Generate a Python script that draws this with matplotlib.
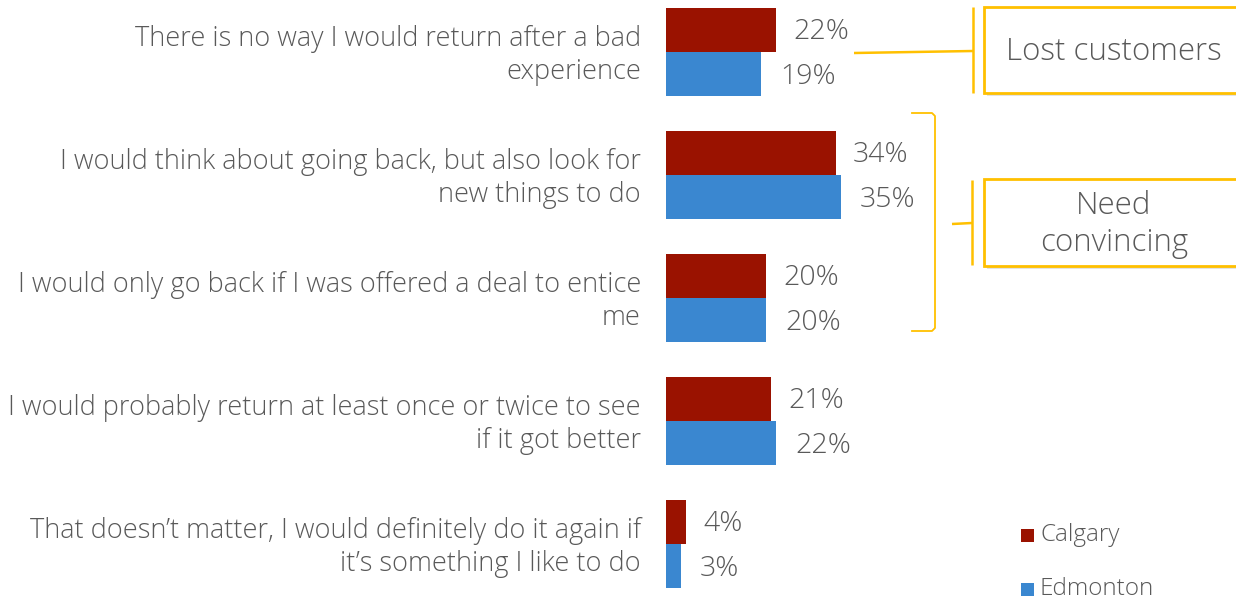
import matplotlib.pyplot as plt
from matplotlib.patches import Rectangle
from matplotlib.lines import Line2D

plt.rcParams['font.family'] = ['Open Sans', 'DejaVu Sans']

categories = [
    "There is no way I would return after a bad\nexperience",
    "I would think about going back, but also look for\nnew things to do",
    "I would only go back if I was offered a deal to entice\nme",
    "I would probably return at least once or twice to see\nif it got better",
    "That doesn\u2019t matter, I would definitely do it again if\nit\u2019s something I like to do",
]
calgary = [22, 34, 20, 21, 4]
edmonton = [19, 35, 20, 22, 3]
series_names = ["Calgary", "Edmonton"]

RED = "#9a1200"
BLUE = "#3a87d0"
GREY = "#595959"
GOLD = "#ffc000"

W, H = 1236, 601
fig = plt.figure(figsize=(W / 100, H / 100), dpi=100)


def fx(x):
    return x / W


def fy(y):
    return 1 - y / H


# axes spans from the bar baseline to the right edge
ax = fig.add_axes([fx(666), 0, 1 - fx(666), 1])
ax.set_xlim(0, 114)
ax.set_ylim(4.463, -0.423)
ax.axis("off")

bh = 0.358
ypos = list(range(len(categories)))
ax.barh([y - bh / 2 for y in ypos], calgary, height=bh, color=RED, align="center")
ax.barh([y + bh / 2 for y in ypos], edmonton, height=bh, color=BLUE, align="center")

for y, c, e in zip(ypos, calgary, edmonton):
    ax.text(c + 3.4, y - bh / 2 + 0.02, f"{c}%", va="center", ha="left", fontsize=20.5,
            color=GREY, fontweight="light")
    ax.text(e + 3.8, y + bh / 2 + 0.02, f"{e}%", va="center", ha="left", fontsize=20.5,
            color=GREY, fontweight="light")
    ax.text(-5, y + 0.03, categories[y], va="center", ha="right", fontsize=19.5,
            color=GREY, linespacing=1.22, clip_on=False, fontweight="light")


def callout(x0, y0, x1, y1, text, lines):
    # drop shadow then the box
    fig.add_artist(Rectangle((fx(x0 + 3), fy(y1 + 3)), fx(x1 - x0), (y1 - y0) / H,
                             transform=fig.transFigure, facecolor="#d8d8d8",
                             edgecolor="none", alpha=0.7))
    fig.add_artist(Rectangle((fx(x0), fy(y1)), fx(x1 - x0), (y1 - y0) / H,
                             transform=fig.transFigure, facecolor="white",
                             edgecolor=GOLD, linewidth=2))
    fig.text(fx(1114), fy((y0 + y1) / 2 + 2), text, ha="center", va="center",
             fontsize=22.5, color=GREY, linespacing=1.2, fontweight="light")
    for xs, ys in lines:
        fig.add_artist(Line2D([fx(v) for v in xs], [fy(v) for v in ys],
                              transform=fig.transFigure, color=GOLD, linewidth=1.8,
                              solid_capstyle="butt"))


callout(984, 7, 1250, 93, "Lost customers",
        [([973, 973], [7, 93]), ([854, 973], [53, 51])])
callout(984, 179, 1250, 266, "Need\nconvincing",
        [([972, 972], [180, 265]), ([952, 972], [224, 223])])

# bracket around the two middle groups
fig.add_artist(Line2D([fx(912), fx(932), fx(935), fx(935), fx(932), fx(912)],
                      [fy(113), fy(113), fy(116), fy(328), fy(331), fy(331)],
                      transform=fig.transFigure, color=GOLD, linewidth=1.3))

# legend
for i, (name, col) in enumerate(zip(series_names, [RED, BLUE])):
    yc = 535 + 54 * i
    fig.add_artist(Rectangle((fx(1021), fy(yc + 6.5)), fx(13), 13 / H,
                             transform=fig.transFigure, facecolor=col, edgecolor="none"))
    fig.text(fx(1040), fy(yc), name, ha="left", va="center", fontsize=17.5, color=GREY,
             fontweight="light")

fig.savefig("out.png", dpi=100)
